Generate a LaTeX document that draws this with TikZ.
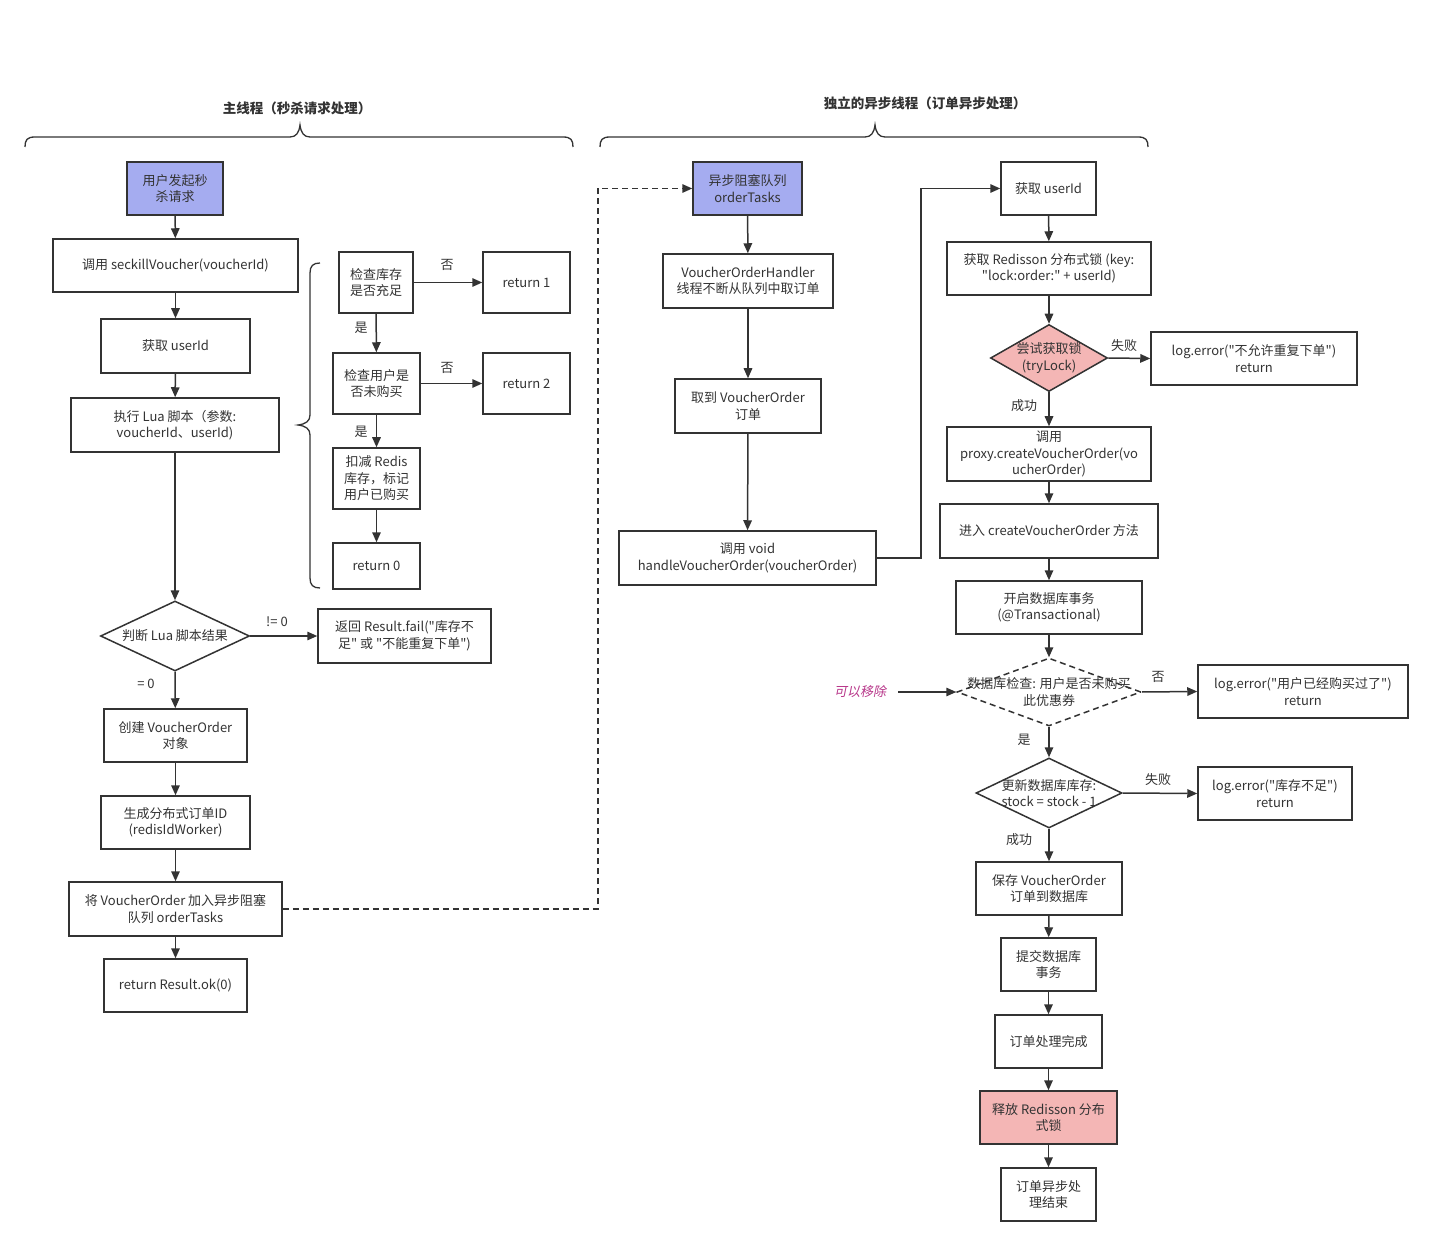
\documentclass[tikz,border=0pt]{standalone}
\usepackage{fontspec}
% families declared without the tex-text mapping, so " stays a straight quote
\newfontfamily\cjkfont{Noto Sans CJK SC}
\newfontfamily\slantfont{Noto Sans CJK SC}[FakeSlant=0.2]
\usetikzlibrary{shapes.geometric,arrows.meta}
\definecolor{ink}{HTML}{333333}
\definecolor{lilac}{HTML}{A5ACF0}
\definecolor{rose}{HTML}{F4B6B5}
\definecolor{note}{HTML}{B8378A}

\begin{document}
\begin{tikzpicture}[x=1pt,y=-1pt,
  font=\cjkfont\fontsize{13}{16.5}\selectfont, text=ink,
  box/.style={draw=ink, line width=1.5pt, fill=white, inner sep=0pt, align=center},
  sz/.style 2 args={minimum width=#1, minimum height=#2},
  dia/.style={draw=ink, line width=1.5pt, diamond, inner sep=0pt, fill=white},
  lbl/.style={inner sep=0pt, align=center},
  arr/.style={draw=ink, line width=1.5pt, -{Triangle[length=10pt,width=8.5pt]}},
  bracepath/.style={draw=ink, line width=1.3pt},
  title/.style={inner sep=0pt, font=\cjkfont\fontsize{13.5}{16}\selectfont\bfseries},
]
% page area
\fill[white] (0,0) rectangle (1433,1246);
\useasboundingbox (0,0) rectangle (1433,1246);

% ---------- section headers ----------
\node[title] (t1) at (297,108) {主线程（秒杀请求处理）};
\node[title] (t2) at (925,103) {独立的异步线程（订单异步处理）};
\draw[bracepath] (25,147) .. controls (25,140) and (27,137) .. (35,137) -- (290,137)
  .. controls (296,137) and (299,133) .. (300,125) .. controls (301,133) and (304,137) .. (310,137)
  -- (563,137) .. controls (571,137) and (573,140) .. (573,147);
\draw[bracepath] (600,147) .. controls (600,140) and (602,137) .. (610,137) -- (865,137)
  .. controls (871,137) and (874,133) .. (875,125) .. controls (876,133) and (879,137) .. (885,137)
  -- (1138,137) .. controls (1146,137) and (1148,140) .. (1148,147);

% ---------- main thread ----------
\node[box, sz={96}{53}, fill=lilac] (a1) at (175,188.5) {用户发起秒\\杀请求};
\node[box, sz={245}{53}] (a2) at (175.5,265.5) {调用 seckillVoucher(voucherId)};
\node[box, sz={149}{54}] (a3) at (175.5,346) {获取 userId};
\node[box, sz={208}{54}] (a4) at (175,425) {执行 Lua 脚本（参数:\\voucherId、userId)};
\node[dia, sz={149}{70}] (a5) at (175,636) {};
\node[lbl] (a5t) at (a5) {判断 Lua 脚本结果};
\node[box, sz={173}{54}] (a5r) at (404.5,636) {返回 Result.fail("库存不\\足" 或 "不能重复下单")};
\node[box, sz={143}{53}] (a6) at (175.5,735.5) {创建 VoucherOrder\\对象};
\node[box, sz={149}{53}] (a7) at (175.5,822.5) {生成分布式订单ID\\(redisIdWorker)};
\node[box, sz={213}{54}] (a8) at (175.5,909) {将 VoucherOrder 加入异步阻塞\\队列 orderTasks};
\node[box, sz={143}{53}] (a9) at (175.5,985.5) {return Result.ok(0)};

% Lua script detail
\draw[bracepath] (320,263) .. controls (313,263) and (310,266) .. (310,273) -- (310,415)
  .. controls (310,421) and (306,424) .. (298,425) .. controls (306,426) and (310,429) .. (310,435)
  -- (310,578) .. controls (310,585) and (313,588) .. (320,588);
\node[box, sz={74}{61}] (b1) at (376,282.5) {检查库存\\是否充足};
\node[box, sz={87}{61}] (b1r) at (526.5,282.5) {return 1};
\node[box, sz={87}{61}] (b2) at (376.5,383.5) {检查用户是\\否未购买};
\node[box, sz={87}{61}] (b2r) at (526.5,383.5) {return 2};
\node[box, sz={87}{61}] (b3) at (376.5,478.5) {扣减 Redis\\库存，标记\\用户已购买};
\node[box, sz={87}{46}] (b4) at (376.5,566) {return 0};

\draw[arr] (a1) -- (a2);
\draw[arr] (a2) -- (a3);
\draw[arr] (a3) -- (a4);
\draw[arr] (a4) -- (a5.north);
\draw[arr] (a5.east) -- (a5r.west);
\draw[arr] (a5.south) -- (a6);
\draw[arr] (a6) -- (a7);
\draw[arr] (a7) -- (a8);
\draw[arr] (a8) -- (a9);
\draw[arr] (b1) -- (b1r);
\draw[arr] (b1) -- (b2);
\draw[arr] (b2) -- (b2r);
\draw[arr] (b2) -- (b3);
\draw[arr] (b3) -- (b4);

\node[lbl] (l1) at (447,265) {否};
\node[lbl] (l2) at (361,328) {是};
\node[lbl] (l3) at (447,368) {否};
\node[lbl] (l4) at (361,432) {是};
\node[lbl] (l5) at (277,622) {!= 0};
\node[lbl] (l6) at (146,684) {= 0};

% ---------- async thread ----------
\node[box, sz={109}{53}, fill=lilac] (c1) at (747.5,188.5) {异步阻塞队列\\orderTasks};
\node[box, sz={170}{54}] (c2) at (748,281) {VoucherOrderHandler\\线程不断从队列中取订单};
\node[box, sz={146}{54}] (c3) at (748,406) {取到 VoucherOrder\\订单};
\node[box, sz={257}{54}] (c4) at (747.5,558) {调用 void\\handleVoucherOrder(voucherOrder)};

\coordinate (q1) at (598,909);
\draw[arr, dashed, dash pattern=on 6pt off 4pt] (a8.east) -- (q1) |- (c1.west);
\draw[arr] (c1) -- (c2);
\draw[arr] (c2) -- (c3);
\draw[arr] (c3) -- (c4);

\node[box, sz={95}{53}] (d1) at (1048.5,188.5) {获取 userId};
\node[box, sz={204}{53}] (d2) at (1049,268.5) {获取 Redisson 分布式锁 (key:\\"lock:order:" + userId)};
\node[dia, sz={117}{67}, fill=rose] (d3) at (1049,358) {};
\node[lbl] (d3t) at (d3) {尝试获取锁\\(tryLock)};
\node[box, sz={206}{53}] (d3r) at (1254,358.5) {log.error("不允许重复下单")\\return};
\node[box, sz={204}{54}] (d4) at (1049,454) {调用\\proxy.createVoucherOrder(vo\\ucherOrder)};
\node[box, sz={218}{54}] (d5) at (1049,531) {进入 createVoucherOrder 方法};
\node[box, sz={186}{53}] (d6) at (1049,607.5) {开启数据库事务\\(@Transactional)};
\node[dia, sz={184}{68}, dashed, dash pattern=on 6pt off 4pt] (d7) at (1049,692) {};
\node[lbl] (d7t) at (d7) {数据库检查: 用户是否未购买\\此优惠券};
\node[box, sz={210}{53}] (d7r) at (1303,691.5) {log.error("用户已经购买过了")\\return};
\node[dia, sz={146}{70}] (d8) at (1049,793) {};
\node[lbl] (d8t) at (d8) {更新数据库库存:\\stock = stock - 1};
\node[box, sz={154}{53}] (d8r) at (1275,793.5) {log.error("库存不足")\\return};
\node[box, sz={146}{53}] (d9) at (1049,888.5) {保存 VoucherOrder\\订单到数据库};
\node[box, sz={95}{53}] (d10) at (1048.5,964.5) {提交数据库\\事务};
\node[box, sz={107}{53}] (d11) at (1048.5,1041.5) {订单处理完成};
\node[box, sz={137}{53}, fill=rose] (d12) at (1048.5,1117.5) {释放 Redisson 分布\\式锁};
\node[box, sz={95}{53}] (d13) at (1048.5,1194.5) {订单异步处\\理结束};

\coordinate (q2) at (921,558);
\draw[arr] (c4.east) -- (q2) |- (d1.west);
\draw[arr] (d1) -- (d2);
\draw[arr] (d2) -- (d3.north);
\draw[arr] (d3.east) -- (d3r.west);
\draw[arr] (d3.south) -- (d4);
\draw[arr] (d4) -- (d5);
\draw[arr] (d5) -- (d6);
\draw[arr] (d6) -- (d7.north);
\draw[arr] (d7.east) -- (d7r.west);
\draw[arr] (d7.south) -- (d8.north);
\draw[arr] (d8.east) -- (d8r.west);
\draw[arr] (d8.south) -- (d9);
\draw[arr] (d9) -- (d10);
\draw[arr] (d10) -- (d11);
\draw[arr] (d11) -- (d12);
\draw[arr] (d12) -- (d13);

\node[lbl, text=note, font=\slantfont\fontsize{13}{16}\selectfont] (rm) at (860,692) {可以移除};
\coordinate (rmtail) at (898,692);
\draw[arr] (rmtail) -- (d7.west);

\node[lbl] (m1) at (1124,346) {失败};
\node[lbl] (m2) at (1024,406) {成功};
\node[lbl] (m3) at (1158,677) {否};
\node[lbl] (m4) at (1024,740) {是};
\node[lbl] (m5) at (1158,780) {失败};
\node[lbl] (m6) at (1019,840) {成功};
\end{tikzpicture}
\end{document}
